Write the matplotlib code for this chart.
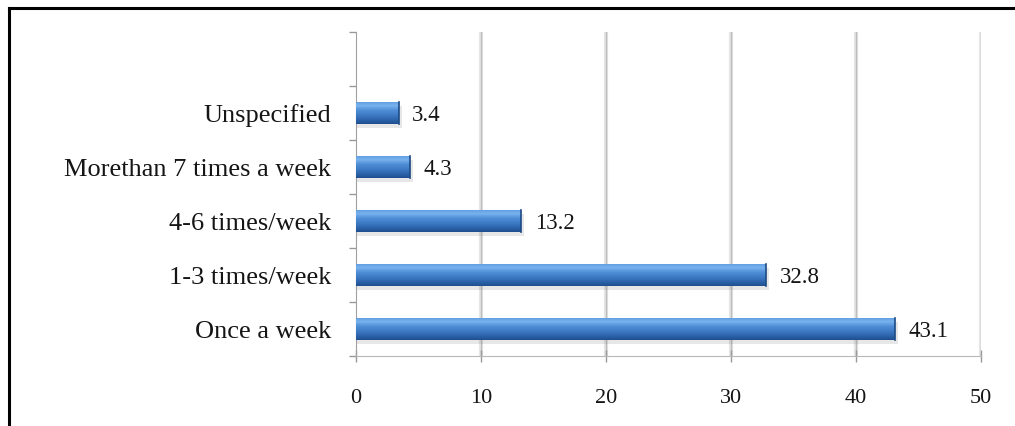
import numpy as np
import matplotlib
matplotlib.use("Agg")
import matplotlib.pyplot as plt
from matplotlib.colors import LinearSegmentedColormap
from matplotlib.lines import Line2D

# chart data (bottom to top)
categories = ["Once a week", "1-3 times/week", "4-6 times/week",
              "Morethan 7 times a week", "Unspecified"]
values = [43.1, 32.8, 13.2, 4.3, 3.4]
xticks = [0, 10, 20, 30, 40, 50]

plt.rcParams["font.family"] = ["Liberation Serif", "DejaVu Serif"]

fig = plt.figure(figsize=(10.15, 4.26), dpi=100)
W, H = 1015, 426
# axes in pixel coords: x 356..981, y 32..356 (from top)
ax = fig.add_axes([356 / W, 1 - 356 / H, (981 - 356) / W, (356 - 32) / H])

ypos = np.arange(len(categories))
bh = 0.41
ax.set_xlim(0, 50)
ax.set_ylim(-0.5, 5.5)

# vertical gridlines with faint shadow
for t in xticks[1:]:
    ax.axvline(t, color="#e6e6e6", lw=3.0, zorder=0)
    ax.axvline(t, color="#bdbdbd", lw=1.0, zorder=0.5)

cmap = LinearSegmentedColormap.from_list(
    "cyl", ["#1f4f8f", "#2e66ad", "#3f7cc6", "#4f8ed6", "#78b2ee", "#5e9ae0"])
grad = np.linspace(0, 1, 64).reshape(-1, 1)

bars = ax.barh(ypos, values, height=bh, color="none", edgecolor="none", zorder=3)
for b, v in zip(bars, values):
    y0 = b.get_y()
    # shadow
    ax.barh(y0 + bh / 2 - 0.08, v + 0.25, height=bh, color="#7a7a7a", alpha=0.18,
            edgecolor="none", zorder=2)
    im = ax.imshow(grad, cmap=cmap, aspect="auto", extent=[0, v, y0, y0 + bh],
                   origin="lower", zorder=3, interpolation="bilinear")
    im.set_clip_path(b)
    ax.plot([v, v], [y0, y0 + bh], color="#1d4a85", lw=1.2, zorder=4)
    ax.text(v + 1.1, y0 + bh / 2, f"{v}", va="center_baseline", ha="left",
            fontsize=16.5, color="#151515", zorder=5)

ax.set_yticks(np.arange(-0.5, 6.0, 1.0))
ax.set_yticklabels([])
ax.set_yticks(ypos, minor=True)
ax.set_yticklabels(categories, minor=True, fontsize=19, color="#151515")
ax.tick_params(axis="y", which="major", length=5, color="#999999", width=1)
ax.tick_params(axis="y", which="minor", length=0, pad=18)
ax.set_xticks(xticks)
ax.set_xticklabels([str(t) for t in xticks], fontsize=16, color="#151515")
ax.xaxis.set_tick_params(direction="inout", length=8, color="#999999", width=1, pad=20)

for s in ["top", "right"]:
    ax.spines[s].set_visible(False)
ax.spines["left"].set_color("#a0a0a0")
ax.spines["bottom"].set_color("#b8b8b8")

# outer frame: top and left only
fig.add_artist(Line2D([8.5 / W, 1.0], [1 - 7.5 / H, 1 - 7.5 / H],
                      transform=fig.transFigure, color="black", lw=2.2))
fig.add_artist(Line2D([8.5 / W, 8.5 / W], [0, 1 - 7.5 / H],
                      transform=fig.transFigure, color="black", lw=2.2))

fig.savefig("out.png", dpi=100)
